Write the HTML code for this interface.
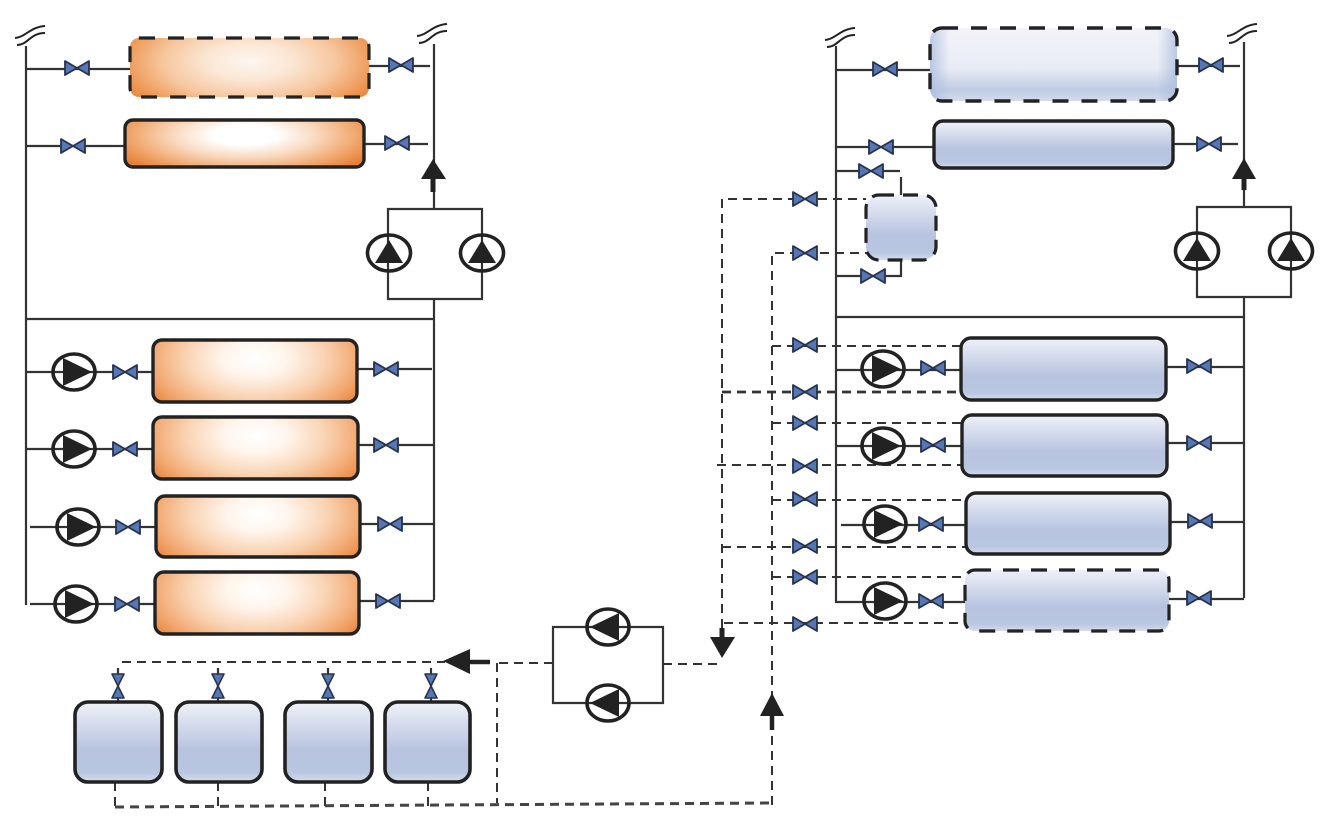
<!DOCTYPE html>
<html><head><meta charset="utf-8"><style>html,body{margin:0;padding:0;background:#fff}svg{display:block}</style></head>
<body>
<svg width="1326" height="829" viewBox="0 0 1326 829" xmlns="http://www.w3.org/2000/svg">
<defs>
<radialGradient id="o1" cx=".5" cy=".4" r="1" gradientTransform="translate(.5 .4) scale(.6 1.05) translate(-.5 -.4)"><stop offset="0" stop-color="#fdf6ef"/><stop offset=".3" stop-color="#fbe6d4"/><stop offset=".6" stop-color="#f6c79f"/><stop offset=".8" stop-color="#f0a468"/><stop offset="1" stop-color="#e7843a"/></radialGradient>
<radialGradient id="o2" cx=".5" cy=".32" r="1" gradientTransform="translate(.5 .32) scale(.6 .95) translate(-.5 -.32)"><stop offset="0" stop-color="#fff"/><stop offset=".22" stop-color="#fff"/><stop offset=".5" stop-color="#f9d9bf"/><stop offset=".8" stop-color="#f0a468"/><stop offset="1" stop-color="#e67f35"/></radialGradient>
<radialGradient id="o3" cx=".5" cy=".3" r="1" gradientTransform="translate(.5 .3) scale(.62 1.15) translate(-.5 -.3)"><stop offset="0" stop-color="#fff"/><stop offset=".25" stop-color="#fff5ec"/><stop offset=".55" stop-color="#f9d3b3"/><stop offset=".8" stop-color="#f2aa74"/><stop offset="1" stop-color="#e8843b"/></radialGradient>
<linearGradient id="b1" x1="0" y1="0" x2="0" y2="1"><stop offset="0" stop-color="#eef1f8"/><stop offset=".6" stop-color="#b8c3df"/><stop offset=".88" stop-color="#b8c6e0"/><stop offset="1" stop-color="#d6deec"/></linearGradient>
<linearGradient id="b2" x1="0" y1="0" x2="0" y2="1"><stop offset="0" stop-color="#f3f4f9"/><stop offset=".55" stop-color="#e8ecf5"/><stop offset=".85" stop-color="#bfcbe4"/><stop offset="1" stop-color="#d4dcec"/></linearGradient>
<linearGradient id="b3" x1="0" y1="0" x2="1" y2="0"><stop offset="0" stop-color="#a9bbdd" stop-opacity=".75"/><stop offset=".08" stop-color="#a9bbdd" stop-opacity="0"/><stop offset=".92" stop-color="#a9bbdd" stop-opacity="0"/><stop offset="1" stop-color="#a9bbdd" stop-opacity=".75"/></linearGradient>
<g id="vh"><path d="M-12,-7 L0,0 L-12,7 Z M12,-7 L0,0 L12,7 Z" fill="#5677b4" stroke="#26324f" stroke-width="1.8" stroke-linejoin="round"/></g>
<g id="vv"><path d="M-6,-12 L0,0 L6,-12 Z M-6,12 L0,0 L6,12 Z" fill="#5677b4" stroke="#26324f" stroke-width="1.6" stroke-linejoin="round"/></g>
<g id="pr"><ellipse rx="21" ry="18" fill="none" stroke="#222" stroke-width="3.6"/><path d="M-11,-14 L18,0 L-11,14 Z" fill="#222"/></g>
<g id="pu"><ellipse rx="21.5" ry="18" fill="none" stroke="#222" stroke-width="3.6"/><path d="M-14,10 L0,-13 L14,10 Z" fill="#222"/></g>
<g id="pl"><ellipse rx="21" ry="18" fill="none" stroke="#222" stroke-width="3.6"/><path d="M11,-14 L-18,0 L11,14 Z" fill="#222"/></g>
<g id="brk" fill="none" stroke="#222" stroke-width="2"><path d="M-13,-6 C-2,-7 2,-17 17,-18"/><path d="M-11,1 C0,1 2,-11 17,-11"/></g>
</defs>

<!-- LEFT solid lines -->
<g fill="none" stroke="#333" stroke-width="2.2">
<path d="M26,46 V605 M434,44 V209 M434,299 V600 M26,319 H434 M26,69 H130 M369,66 H430 M26,146 H125 M364,144 H428"/>
<path d="M388,209 H482 V299 H388 Z"/>
<path d="M26,372 H153 M357,369 H432 M26,449 H153 M358,445 H434 M30,527 H156 M360,524 H434 M30,604 H155 M359,601 H434"/>
</g>
<path d="M433,192 V175" stroke="#222" stroke-width="5" fill="none"/>
<path d="M421,179 L433,159 L446,179 Z" fill="#222"/>
<use href="#brk" x="28" y="44"/><use href="#brk" x="430" y="42"/>

<!-- LEFT tanks -->
<rect x="130" y="38" width="239" height="59" rx="9" fill="url(#o1)" stroke="#222" stroke-width="3.2" stroke-dasharray="16 13"/>
<rect x="125" y="120" width="239" height="47" rx="8" fill="url(#o2)" stroke="#222" stroke-width="3.4"/>
<rect x="153" y="340" width="204" height="62" rx="9" fill="url(#o3)" stroke="#222" stroke-width="3.4"/>
<rect x="153" y="417" width="205" height="62" rx="9" fill="url(#o3)" stroke="#222" stroke-width="3.4"/>
<rect x="156" y="496" width="204" height="61" rx="9" fill="url(#o3)" stroke="#222" stroke-width="3.4"/>
<rect x="155" y="572" width="204" height="62" rx="9" fill="url(#o3)" stroke="#222" stroke-width="3.4"/>

<use href="#vh" x="77" y="68"/><use href="#vh" x="401" y="65"/><use href="#vh" x="73" y="146"/><use href="#vh" x="397" y="143"/>
<use href="#vh" x="125" y="372"/><use href="#vh" x="125" y="449"/><use href="#vh" x="128" y="527"/><use href="#vh" x="127" y="604"/>
<use href="#vh" x="386" y="369"/><use href="#vh" x="386" y="445"/><use href="#vh" x="390" y="524"/><use href="#vh" x="388" y="601"/>
<use href="#pr" x="74" y="372"/><use href="#pr" x="74" y="449"/><use href="#pr" x="78" y="527"/><use href="#pr" x="76" y="604"/>
<use href="#pu" x="389" y="253"/><use href="#pu" x="482" y="253"/>

<!-- RIGHT solid lines -->
<g fill="none" stroke="#333" stroke-width="2.2">
<path d="M836,46 V603 M1244,42 V207 M1244,297 V598 M836,317 H1244 M836,70 H930 M1177,66 H1240 M836,147 H934 M1173,144 H1238"/>
<path d="M836,171 H900 M901,177 V195 M901,260 V276 H836"/>
<path d="M1197,207 H1291 V297 H1197 Z"/>
<path d="M836,370 H961 M1166,367 H1243 M836,446 H962 M1167,443 H1243 M841,525 H966 M1170,522 H1244 M836,602 H965 M1169,599 H1244"/>
</g>
<path d="M1244,190 V175" stroke="#222" stroke-width="5" fill="none"/>
<path d="M1232,179 L1244,158 L1256,179 Z" fill="#222"/>
<use href="#brk" x="838" y="46"/><use href="#brk" x="1240" y="42"/>

<!-- RIGHT dashed lines -->
<g fill="none" stroke="#333" stroke-width="2" stroke-dasharray="9 6">
<path d="M722,628 V199 H866 M772,805 V253 H866"/>
<path d="M772,346 H961 M772,423 H961 M717,465 H961 M772,500 H965 M722,547 H965 M772,577 H965 M724,623 H965"/>
<path d="M722,392 H961" stroke-width="2.8"/>
</g>

<!-- RIGHT tanks -->
<rect x="930" y="28" width="247" height="73" rx="12" fill="url(#b2)"/>
<rect x="930" y="28" width="247" height="73" rx="12" fill="url(#b3)" stroke="#222" stroke-width="3.4" stroke-dasharray="16 13"/>
<rect x="934" y="121" width="239" height="47" rx="9" fill="url(#b1)" stroke="#222" stroke-width="3.4"/>
<rect x="866" y="195" width="70" height="65" rx="13" fill="url(#b1)" stroke="#222" stroke-width="3.2" stroke-dasharray="15 9"/>
<rect x="961" y="338" width="205" height="62" rx="10" fill="url(#b1)" stroke="#222" stroke-width="3.4"/>
<rect x="962" y="415" width="205" height="61" rx="10" fill="url(#b1)" stroke="#222" stroke-width="3.4"/>
<rect x="966" y="493" width="204" height="61" rx="10" fill="url(#b1)" stroke="#222" stroke-width="3.4"/>
<rect x="965" y="570" width="204" height="61" rx="10" fill="url(#b1)" stroke="#222" stroke-width="3.2" stroke-dasharray="16 12"/>

<use href="#vh" x="885" y="69"/><use href="#vh" x="1211" y="65"/><use href="#vh" x="881" y="147"/><use href="#vh" x="1209" y="144"/>
<use href="#vh" x="871" y="171"/><use href="#vh" x="873" y="276"/><use href="#vh" x="805" y="199"/><use href="#vh" x="805" y="253"/>
<use href="#vh" x="805" y="345"/><use href="#vh" x="805" y="392"/><use href="#vh" x="805" y="423"/><use href="#vh" x="805" y="466"/>
<use href="#vh" x="805" y="499"/><use href="#vh" x="805" y="546"/><use href="#vh" x="805" y="577"/><use href="#vh" x="805" y="624"/>
<use href="#vh" x="933" y="368"/><use href="#vh" x="933" y="445"/><use href="#vh" x="931" y="524"/><use href="#vh" x="931" y="601"/>
<use href="#vh" x="1199" y="366"/><use href="#vh" x="1199" y="443"/><use href="#vh" x="1200" y="521"/><use href="#vh" x="1199" y="598"/>
<use href="#pr" x="883" y="369"/><use href="#pr" x="883" y="446"/><use href="#pr" x="885" y="524"/><use href="#pr" x="885" y="601"/>
<use href="#pu" x="1197" y="251"/><use href="#pu" x="1291" y="251"/>

<!-- BOTTOM -->
<g fill="none" stroke="#333" stroke-width="2.2">
<path d="M553,627 H663 V703 H553 Z"/>
<path d="M118,668 V702 M218,668 V702 M328,668 V702 M431,668 V702"/>
</g>
<g fill="none" stroke="#333" stroke-width="2" stroke-dasharray="9 6">
<path d="M553,663 H497 M663,664 H722 M122,662 H445"/>
<path d="M497,663 V803"/>
<path d="M115,782 V806 M218,782 V806 M325,782 V806 M428,782 V806"/>
<path d="M115,807 L772,803" stroke-width="3" stroke="#444"/>
</g>
<path d="M490,662 H465" stroke="#222" stroke-width="4.5" fill="none"/>
<path d="M470,649 L443,661 L470,674 Z" fill="#222"/>
<path d="M722,640 V628" stroke="#222" stroke-width="5" fill="none"/>
<path d="M710,637 H735 L722,658 Z" fill="#222"/>
<path d="M772,730 V710" stroke="#222" stroke-width="4.5" fill="none"/>
<path d="M760,716 L772,693 L784,716 Z" fill="#222"/>

<rect x="75" y="702" width="87" height="80" rx="13" fill="url(#b1)" stroke="#222" stroke-width="3.6"/>
<rect x="176" y="702" width="86" height="80" rx="13" fill="url(#b1)" stroke="#222" stroke-width="3.6"/>
<rect x="285" y="702" width="87" height="80" rx="13" fill="url(#b1)" stroke="#222" stroke-width="3.6"/>
<rect x="385" y="702" width="85" height="80" rx="13" fill="url(#b1)" stroke="#222" stroke-width="3.6"/>
<use href="#vv" x="118" y="686"/><use href="#vv" x="218" y="686"/><use href="#vv" x="328" y="686"/><use href="#vv" x="431" y="686"/>
<use href="#pl" x="608" y="627"/><use href="#pl" x="608" y="703"/>
</svg>
</body></html>
